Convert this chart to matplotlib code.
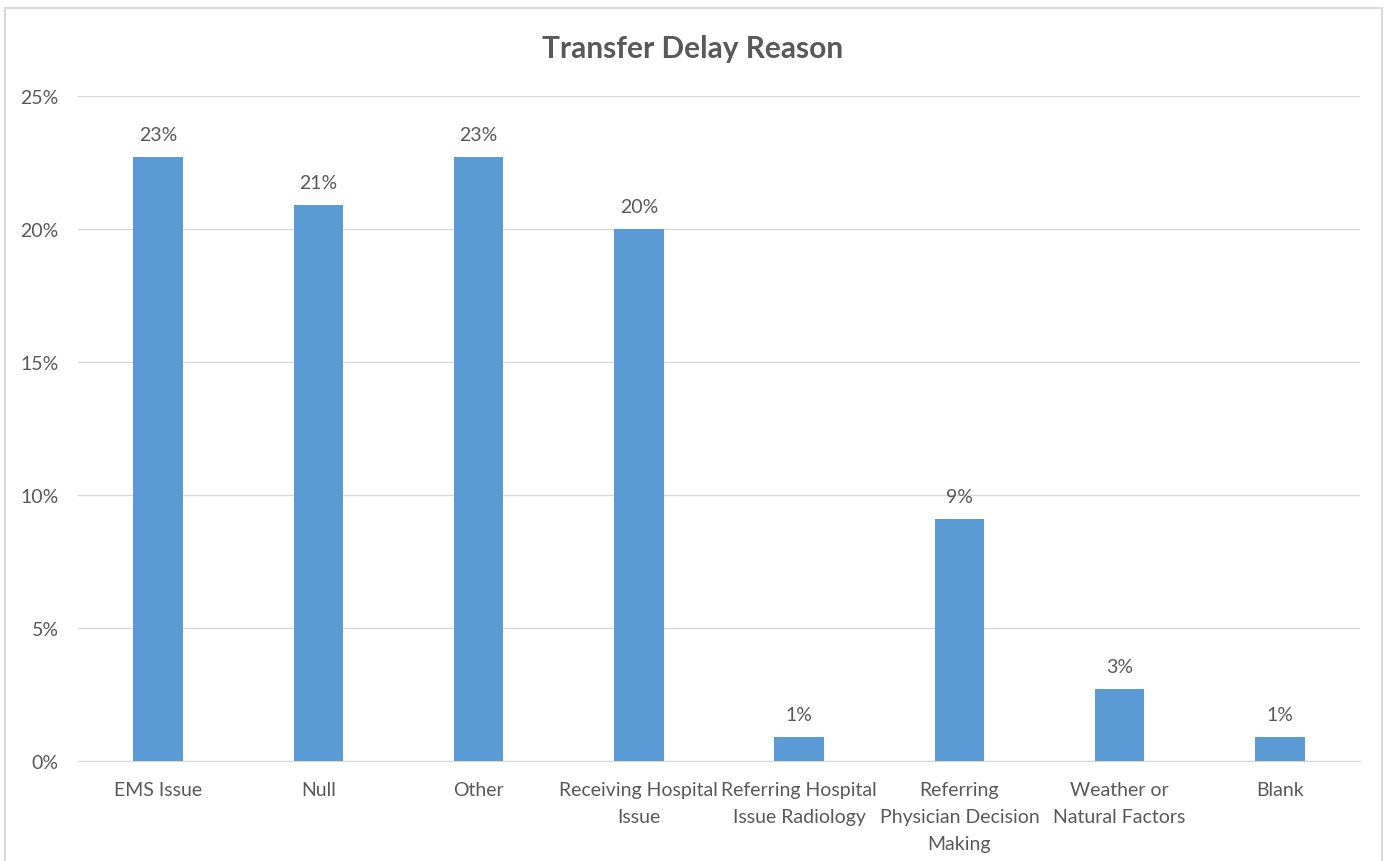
import matplotlib.pyplot as plt
from matplotlib.ticker import PercentFormatter
from matplotlib.patches import Rectangle

plt.rcParams['font.family'] = ['Lato', 'DejaVu Sans']

# data (percent of transfers)
categories = ["EMS Issue", "Null", "Other", "Receiving Hospital\nIssue",
              "Referring Hospital\nIssue Radiology",
              "Referring\nPhysician Decision\nMaking",
              "Weather or\nNatural Factors", "Blank"]
values = [22.7, 20.9, 22.7, 20.0, 0.9, 9.1, 2.7, 0.9]
y_ticks = [0, 5, 10, 15, 20, 25]

text_col = "#595959"
bar_col = "#5B9BD5"
grid_col = "#D9D9D9"

fig = plt.figure(figsize=(13.85, 8.62), dpi=100)
ax = fig.add_axes([78 / 1385, 100 / 862, 1282 / 1385, 665 / 862])

x = list(range(len(categories)))
bars = ax.bar(x, values, width=0.31, color=bar_col, zorder=3)

for b, v in zip(bars, values):
    ax.annotate(f"{v:.0f}%", (b.get_x() + b.get_width() / 2, v),
                xytext=(0, 10), textcoords="offset points",
                ha="center", va="bottom", fontsize=14, color=text_col)

ax.set_xlim(-0.5, len(categories) - 0.5)
ax.set_ylim(0, 25)
ax.set_yticks(y_ticks)
ax.yaxis.set_major_formatter(PercentFormatter(decimals=0))
ax.set_xticks(x)
ax.set_xticklabels(categories, linespacing=1.72)
ax.tick_params(axis="y", length=0, pad=14, labelsize=14, labelcolor=text_col)
ax.tick_params(axis="x", length=0, pad=14.5, labelsize=14, labelcolor=text_col)
ax.grid(axis="y", color=grid_col, linewidth=1, zorder=0)
for s in ["top", "right", "left"]:
    ax.spines[s].set_visible(False)
ax.spines["bottom"].set_color(grid_col)

fig.text(0.5, 1 - 49 / 862, "Transfer Delay Reason", ha="center", va="center",
         fontsize=21.5, fontweight="bold", color=text_col)

# outer chart border
fig.patches.append(Rectangle((5 / 1385, -0.01), 1377 / 1385, 1 - 9 / 862 + 0.01,
                             transform=fig.transFigure, fill=False,
                             edgecolor=grid_col, linewidth=1.5))

fig.savefig("out.png", dpi=100)
